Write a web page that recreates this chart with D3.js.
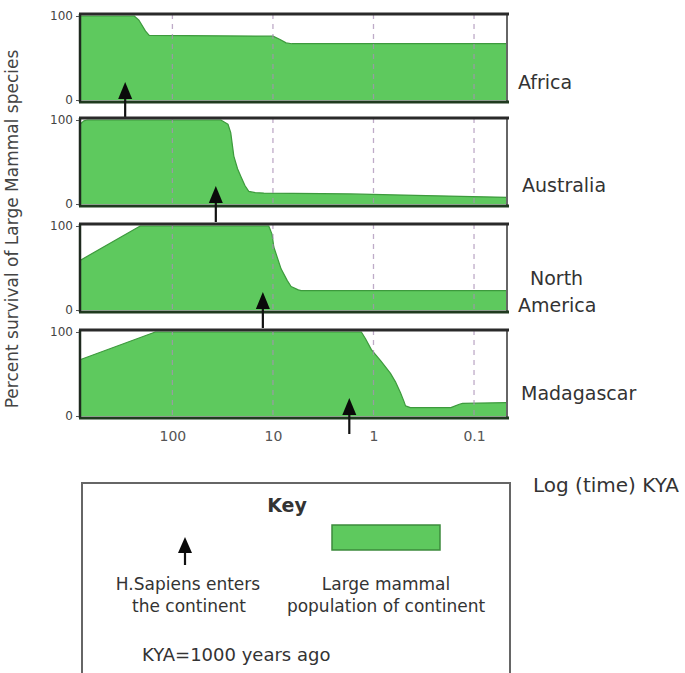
<!DOCTYPE html>
<html><head><meta charset="utf-8">
<script src="https://cdn.jsdelivr.net/npm/d3@7/dist/d3.min.js"></script>
<style>
html,body{margin:0;padding:0;background:#fff;}
text{font-family:"DejaVu Sans",sans-serif;fill:#333;}
</style></head>
<body><svg id="c" width="685" height="673"></svg>
<script>
// ---- data (KYA, percent survival) ----
const continents = ["Africa", "Australia", "North America", "Madagascar"];
const africa = [[830,100],[240,100],[215,95],[185,82],[170,77],[10,76],[8.5,72],[7.4,68],[6.5,67],[0.047,67]];
const australia = [[830,95],[760,99],[700,100],[33,100],[28,95],[26.3,85],[24.5,57],[22.5,42],[20.9,33],[19,22],[17.4,15],[15,13.5],[12.3,13],[1.7,12],[0.3,10],[0.047,8]];
const northAmerica = [[830,59],[209,100],[11,100],[10.2,90],[9.8,75],[8.3,49],[7.2,35],[6.6,28],[5.6,24],[5.25,23],[0.047,23]];
const madagascar = [[830,67],[148,100],[1.32,100],[1.2,92],[1.05,79],[0.85,66],[0.68,51],[0.6,40],[0.54,28],[0.5,18],[0.48,12],[0.43,10],[0.17,10],[0.14,14],[0.13,15],[0.047,16]];
const seriesValues = [africa, australia, northAmerica, madagascar];
const arrivalKYA = [295, 37, 12.6, 1.74];
const xTickValues = [100, 10, 1, 0.1];
const xTickLabels = ["100", "10", "1", "0.1"];
const yTickValues = [0, 100];
const yTickLabels = ["0", "100"];

const svg = d3.select("#c");
const green = "#5ec95e";
const x = d3.scaleLog().domain([830, 0.047]).range([80, 507]);
const panelTops = [14, 118, 224, 330];
const panelH = 88;

// Y axis title
svg.append("text")
  .attr("transform", "translate(18,229) rotate(-90)")
  .attr("text-anchor", "middle")
  .style("font-size", "17px")
  .style("fill", "#444")
  .text("Percent survival of Large Mammal species");

const labelLines = [["Africa"], ["Australia"], ["North", "America"], ["Madagascar"]];
const labelPos = [[[518, 89]], [[522, 192]], [[530, 285], [518, 312]], [[521, 400]]];

continents.forEach((name, i) => {
  const top = panelTops[i], bot = top + panelH;
  const y = d3.scaleLinear().domain([0, 100]).range([bot - 2, top + 2]);
  const g = svg.append("g");
  const data = seriesValues[i];
  const area = d3.area().x(d => x(d[0])).y0(y(0)).y1(d => y(d[1])).curve(d3.curveLinear);
  const line = d3.line().x(d => x(d[0])).y(d => y(d[1])).curve(d3.curveLinear);
  g.append("path").datum(data).attr("d", area).attr("fill", green);
  g.append("path").datum(data).attr("d", line).attr("fill", "none").attr("stroke", "#3d9a3d").attr("stroke-width", 1.2).attr("stroke-linejoin", "round");
  // gridlines
  g.selectAll("line.grid").data(xTickValues).enter().append("line")
    .attr("x1", d => x(d)).attr("x2", d => x(d)).attr("y1", top).attr("y2", bot)
    .attr("stroke", "#a98fb5").attr("stroke-opacity", 0.75).attr("stroke-width", 1.3)
    .attr("stroke-dasharray", "5,5");
  // frame
  g.append("line").attr("x1", 507).attr("x2", 507).attr("y1", top).attr("y2", bot).attr("stroke", "#666").attr("stroke-width", 2);
  g.append("line").attr("x1", 79).attr("x2", 509).attr("y1", top).attr("y2", top).attr("stroke", "#2a2a2a").attr("stroke-width", 3);
  g.append("line").attr("x1", 79).attr("x2", 509).attr("y1", bot).attr("y2", bot).attr("stroke", "#1f3a1f").attr("stroke-width", 3);
  g.append("line").attr("x1", 80).attr("x2", 80).attr("y1", top).attr("y2", bot).attr("stroke", "#1f2a1f").attr("stroke-width", 2.5);
  // y axis
  const ya = g.append("g").attr("transform", "translate(79,0)")
    .call(d3.axisLeft(y).tickValues(yTickValues).tickSize(3).tickFormat((d, k) => yTickLabels[k]));
  ya.select(".domain").remove();
  ya.selectAll("text").style("font-size", "12px").style("fill", "#444").attr("font-family", null);
  ya.selectAll("line").attr("stroke", "#555");
  // arrow (human arrival)
  const ax = x(arrivalKYA[i]);
  g.append("line").attr("x1", ax).attr("x2", ax).attr("y1", bot - 6).attr("y2", bot + 16)
    .attr("stroke", "#111").attr("stroke-width", 2.2);
  g.append("path").attr("d", `M${ax},${bot - 20} L${ax - 7},${bot - 3} L${ax + 7},${bot - 3} Z`).attr("fill", "#0a0a0a");
  // label
  labelLines[i].forEach((t, k) => {
    svg.append("text").attr("x", labelPos[i][k][0]).attr("y", labelPos[i][k][1])
      .style("font-size", "19px").text(t);
  });
});

// x axis labels
const xa = svg.append("g").attr("transform", `translate(0,${panelTops[3] + panelH})`)
  .call(d3.axisBottom(x).tickValues(xTickValues).tickSize(0).tickPadding(13).tickFormat((d, k) => xTickLabels[k]));
xa.select(".domain").remove();
xa.selectAll("text").style("font-size", "14px").style("fill", "#555").attr("font-family", null);

svg.append("text").attr("x", 533).attr("y", 492).style("font-size", "20px").text("Log (time) KYA");

// key
const key = svg.append("g");
key.append("rect").attr("x", 82).attr("y", 483).attr("width", 428).attr("height", 200)
  .attr("fill", "none").attr("stroke", "#666").attr("stroke-width", 2);
key.append("text").attr("x", 287).attr("y", 512).attr("text-anchor", "middle")
  .style("font-size", "19px").style("font-weight", "bold").text("Key");
key.append("line").attr("x1", 185).attr("x2", 185).attr("y1", 548).attr("y2", 565).attr("stroke", "#111").attr("stroke-width", 2.2);
key.append("path").attr("d", "M185,537 L178,553 L192,553 Z").attr("fill", "#0a0a0a");
key.append("rect").attr("x", 332).attr("y", 525).attr("width", 108).attr("height", 25)
  .attr("fill", green).attr("stroke", "#3d8a3d").attr("stroke-width", 1.5);
const keyTexts = [["H.Sapiens enters", 188, 590], ["the continent", 189, 612],
  ["Large mammal", 386, 590], ["population of continent", 386, 612]];
keyTexts.forEach(t => key.append("text").attr("x", t[1]).attr("y", t[2]).attr("text-anchor", "middle")
  .style("font-size", "17px").text(t[0]));
key.append("text").attr("x", 142).attr("y", 661).style("font-size", "18px").text("KYA=1000 years ago");
</script></body></html>
